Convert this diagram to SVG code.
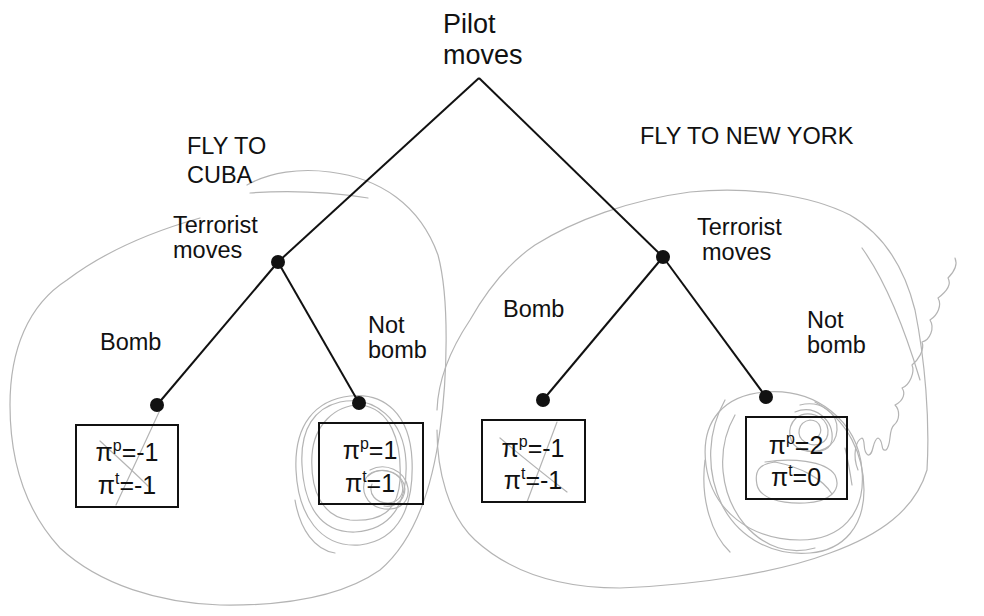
<svg xmlns="http://www.w3.org/2000/svg" width="984" height="616" viewBox="0 0 984 616">
<style>
  .lbl { font-family: "Liberation Sans", Arial, sans-serif; font-size: 23.5px; fill: #111; }
  .title { font-family: "Liberation Sans", Arial, sans-serif; font-size: 27px; fill: #111; }
  .pay { font-family: "Liberation Sans", Arial, sans-serif; font-size: 25px; fill: #111; text-anchor: middle; }
  .sup { font-size: 16px; }
  .edge { stroke: #111; stroke-width: 2; fill: none; }
  .dot { fill: #111; }
  .box { fill: none; stroke: #111; stroke-width: 2; }
  .pencil { fill: none; stroke: #b4b4b4; stroke-width: 1.2; stroke-linecap: round; stroke-linejoin: round; }
</style>
<rect width="984" height="616" fill="#ffffff"/>

<!-- pencil annotations -->
<g id="pencil">
  <!-- left big loop -->
  <path class="pencil" d="M247,185 C270,172 300,168 330,172 C380,178 420,205 438,255 C450,300 447,380 440,430 C432,490 415,540 380,570 C340,598 280,606 220,605 C160,603 100,585 60,548 C25,510 10,460 10,405 C10,350 28,305 67,280 C100,255 140,235 200,218"/>
  <path class="pencil" d="M250,193 C290,190 330,192 368,198"/>
  <!-- right big loop -->
  <path class="pencil" d="M437,410 C438,380 450,350 470,320 C490,285 510,262 535,245 C575,220 630,200 690,192 C750,186 810,195 850,215 C885,235 905,270 915,310 C925,360 930,420 927,470 C915,510 880,535 830,553 C780,572 700,585 620,588 C560,588 510,572 475,540 C448,515 437,470 437,430"/>
  <path class="pencil" d="M862,248 C885,280 905,330 920,380"/>
  <!-- loops around left Not bomb leaf -->
  <path class="pencil" d="M350,396 C385,392 410,415 412,460 C414,505 400,540 360,545 C320,548 298,515 296,470 C294,425 315,400 350,396"/>
  <path class="pencil" d="M340,402 C375,395 404,420 406,462 C408,505 390,530 355,532 C320,533 304,505 302,465 C300,428 315,408 340,402"/>
  <path class="pencil" d="M360,405 C390,408 402,440 400,480 C398,512 380,522 350,520 C322,517 310,490 312,455 C314,425 335,405 360,405"/>
  <path class="pencil" d="M295,500 C300,530 315,550 335,553"/>
  <path class="pencil" d="M370,470 C385,462 405,470 408,488 C410,505 395,512 380,508 C366,504 360,490 366,478 C372,468 390,468 400,478 C406,490 402,502 388,503 C376,503 368,494 372,484"/>
  <path class="pencil" d="M368,476 C380,466 398,470 404,484 C408,498 396,508 384,506"/>
  <!-- loops around right Not bomb leaf -->
  <path class="pencil" d="M765,392 C815,388 858,420 862,470 C866,515 840,540 800,540 C750,540 712,510 706,465 C700,420 725,395 765,392"/>
  <path class="pencil" d="M725,400 C708,430 705,470 722,505 C740,540 775,556 810,553 C845,550 864,525 864,490 C864,455 848,420 815,402"/>
  <path class="pencil" d="M735,415 C715,450 720,495 745,525 C765,548 790,555 815,548"/>
  <path class="pencil" d="M705,460 C700,500 712,535 730,552"/>
  <path class="pencil" d="M800,405 C820,400 838,412 837,430 C836,448 818,455 802,450 C788,445 786,428 796,418 C806,410 826,414 828,430 C829,444 815,448 805,442 C795,436 798,422 810,420 C820,420 825,432 816,438"/>
  <path class="pencil" d="M795,412 C815,404 834,420 832,440 C830,452 815,455 800,448"/>
  <path class="pencil" d="M765,462 C790,458 825,460 835,475 C842,490 830,502 805,503 C780,504 760,498 757,485 C754,470 760,464 775,462 C800,467 822,478 832,494"/>
  <!-- crossing marks in Bomb boxes -->
  <path class="pencil" d="M160,410 L116,505"/>
  <path class="pencil" d="M100,441 C115,455 132,470 148,486"/>
  <path class="pencil" d="M557,422 L527,502"/>
  <path class="pencil" d="M500,438 C520,455 545,475 567,492"/>
  <!-- handwritten note (pencil scribble) -->
  <path class="pencil" d="M858,470 C852,455 856,440 862,438 C866,440 862,452 868,455 C874,456 872,440 878,438 C884,440 880,452 886,450 C892,445 888,430 894,425 C900,420 900,410 895,405 C905,400 905,392 902,388 C910,385 915,372 912,365 C918,360 925,350 922,342 C930,340 935,328 930,320 C938,315 942,305 938,298 C946,292 952,285 948,278 C954,272 958,265 955,258"/>
  <path class="pencil" d="M845,448 C848,460 850,472 852,485"/>
</g>

<!-- connectors -->
<g id="connectors">
  <line class="edge" x1="479" y1="78" x2="278" y2="262"/>
  <line class="edge" x1="479" y1="78" x2="663" y2="257"/>
  <line class="edge" x1="278" y1="262" x2="157" y2="405"/>
  <line class="edge" x1="278" y1="262" x2="359" y2="403"/>
  <line class="edge" x1="663" y1="257" x2="543" y2="400"/>
  <line class="edge" x1="663" y1="257" x2="766" y2="397"/>
</g>

<g id="root">
  <text class="title" x="443" y="33">Pilot</text>
  <text class="title" x="443" y="64">moves</text>
</g>

<g id="label-cuba">
  <text class="lbl" x="187" y="154">FLY TO</text>
  <text class="lbl" x="187" y="183">CUBA</text>
</g>
<g id="label-ny">
  <text class="lbl" x="640" y="144">FLY TO NEW YORK</text>
</g>

<g id="terrorist-left">
  <circle class="dot" cx="278" cy="262" r="7"/>
  <text class="lbl" x="173" y="233">Terrorist</text>
  <text class="lbl" x="173" y="258">moves</text>
</g>
<g id="terrorist-right">
  <circle class="dot" cx="663" cy="257" r="7"/>
  <text class="lbl" x="697" y="235">Terrorist</text>
  <text class="lbl" x="702" y="260">moves</text>
</g>

<g id="label-bomb-left"><text class="lbl" x="100" y="350">Bomb</text></g>
<g id="label-notbomb-left">
  <text class="lbl" x="368" y="333">Not</text>
  <text class="lbl" x="368" y="358">bomb</text>
</g>
<g id="label-bomb-right"><text class="lbl" x="503" y="317">Bomb</text></g>
<g id="label-notbomb-right">
  <text class="lbl" x="807" y="328">Not</text>
  <text class="lbl" x="807" y="353">bomb</text>
</g>

<g id="leaf-cuba-bomb">
  <circle class="dot" cx="157" cy="405" r="7"/>
  <rect class="box" x="76" y="425" width="102" height="82"/>
  <text class="pay" x="127" y="461">π<tspan class="sup" dy="-10">p</tspan><tspan dy="10">=-1</tspan></text>
  <text class="pay" x="127" y="494">π<tspan class="sup" dy="-10">t</tspan><tspan dy="10">=-1</tspan></text>
</g>
<g id="leaf-cuba-notbomb">
  <circle class="dot" cx="359" cy="403" r="7"/>
  <rect class="box" x="319" y="423" width="104" height="81"/>
  <text class="pay" x="370" y="459">π<tspan class="sup" dy="-10">p</tspan><tspan dy="10">=1</tspan></text>
  <text class="pay" x="370" y="492">π<tspan class="sup" dy="-10">t</tspan><tspan dy="10">=1</tspan></text>
</g>
<g id="leaf-ny-bomb">
  <circle class="dot" cx="543" cy="400" r="7"/>
  <rect class="box" x="482" y="420" width="103" height="82"/>
  <text class="pay" x="533" y="457">π<tspan class="sup" dy="-10">p</tspan><tspan dy="10">=-1</tspan></text>
  <text class="pay" x="533" y="489">π<tspan class="sup" dy="-10">t</tspan><tspan dy="10">=-1</tspan></text>
</g>
<g id="leaf-ny-notbomb">
  <circle class="dot" cx="766" cy="397" r="7"/>
  <rect class="box" x="746" y="417" width="101" height="82"/>
  <text class="pay" x="796" y="454">π<tspan class="sup" dy="-10">p</tspan><tspan dy="10">=2</tspan></text>
  <text class="pay" x="796" y="486">π<tspan class="sup" dy="-10">t</tspan><tspan dy="10">=0</tspan></text>
</g>
</svg>
